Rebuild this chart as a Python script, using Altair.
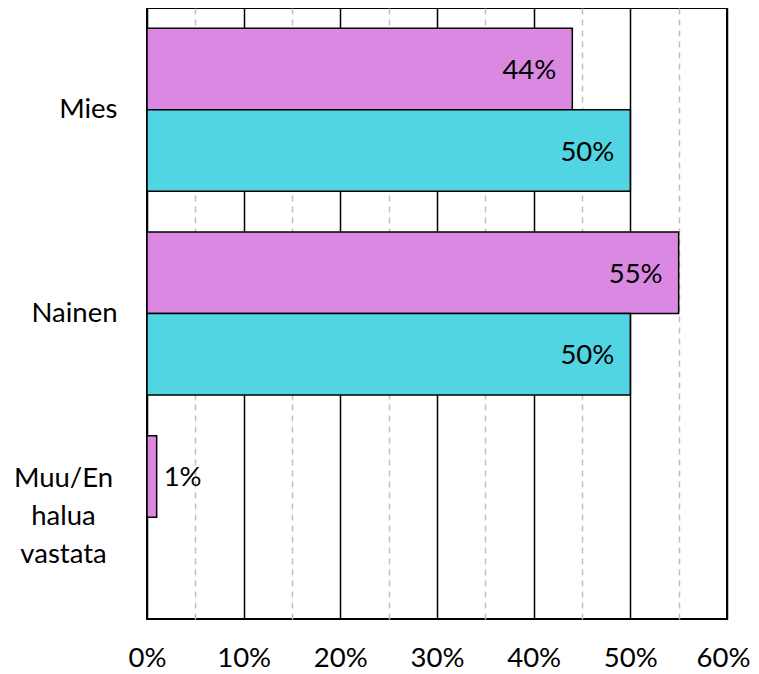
import altair as alt
import pandas as pd

categories = ["Mies", "Nainen", "Muu/En halua vastata"]
series = ["Vastaajat", "Väestö"]
vastaajat = [44, 55, 1]
vaesto = [50, 50, None]
colors = ["#DA88E2", "#52D5E3"]
x_ticks = list(range(0, 61, 5))

rows = []
for c, a, b in zip(categories, vastaajat, vaesto):
    if a is not None:
        rows.append({"Ryhmä": c, "Sarja": series[0], "Osuus": a})
    if b is not None:
        rows.append({"Ryhmä": c, "Sarja": series[1], "Osuus": b})
df = pd.DataFrame(rows)

FONT = "Lato"
FS = 27.5
MULTI = "indexof(datum.value, ' ') >= 0"

y_enc = alt.Y(
    "Ryhmä:N",
    sort=categories,
    scale=alt.Scale(paddingInner=0.2, paddingOuter=0.1),
    axis=alt.Axis(
        title=None,
        ticks=False,
        domain=False,
        labelExpr="split(datum.label, ' ')",
        labelAlign={"condition": {"test": MULTI, "value": "center"}, "value": "right"},
        labelPadding={"condition": {"test": MULTI, "value": 84}, "value": 30},
        labelOffset={"condition": {"test": MULTI, "value": -38}, "value": 0},
        labelBaseline="middle",
        labelLineHeight=38,
        labelFontSize=FS,
        labelFont=FONT,
        labelColor="black",
        labelLimit=0,
    ),
)
yoff_enc = alt.YOffset("Sarja:N", sort=series, scale=alt.Scale(paddingInner=0, paddingOuter=0))
x_enc = alt.X(
    "Osuus:Q",
    scale=alt.Scale(domain=[0, 60], nice=False, zero=True),
    axis=alt.Axis(
        title=None,
        values=x_ticks,
        labelExpr="datum.value % 10 === 0 ? datum.value + '%' : ''",
        ticks=False,
        domain=False,
        grid=True,
        gridColor={"condition": {"test": "datum.value % 10 === 0", "value": "black"}, "value": "#BFBFBF"},
        gridDash={"condition": {"test": "datum.value % 10 === 0", "value": []}, "value": [6, 5]},
        gridWidth=1.5,
        labelBaseline="alphabetic",
        labelPadding=47,
        labelOffset={"condition": {"test": "datum.value === 60", "value": -4}, "value": 0},
        labelFontSize=FS,
        labelFont=FONT,
        labelColor="black",
        labelFlush=False,
    ),
)

base = alt.Chart(df).encode(y=y_enc, yOffset=yoff_enc, x=x_enc)

bars = base.mark_bar(stroke="black", strokeWidth=1.5).encode(
    color=alt.Color("Sarja:N", sort=series, scale=alt.Scale(domain=series, range=colors), legend=None)
)

inside = base.transform_filter("datum.Osuus >= 10").mark_text(
    align="right", baseline="middle", dx=-16, dy=2, fontSize=FS, font=FONT, color="black"
).encode(text=alt.Text("label:N")).transform_calculate(label="datum.Osuus + '%'")

outside = base.transform_filter("datum.Osuus < 10").mark_text(
    align="left", baseline="middle", dx=7, dy=2, fontSize=FS, font=FONT, color="black"
).encode(text=alt.Text("label:N")).transform_calculate(label="datum.Osuus + '%'")

chart = (
    alt.layer(bars, inside, outside)
    .properties(
        width=580,
        height=611,
        autosize=alt.AutoSizeParams(type="none"),
        padding={"left": 139, "top": 0, "right": 24, "bottom": 55},
    )
    .configure_view(stroke="black", strokeWidth=2)
)

chart.save("out.html", embed_options={"renderer": "svg", "actions": False})
